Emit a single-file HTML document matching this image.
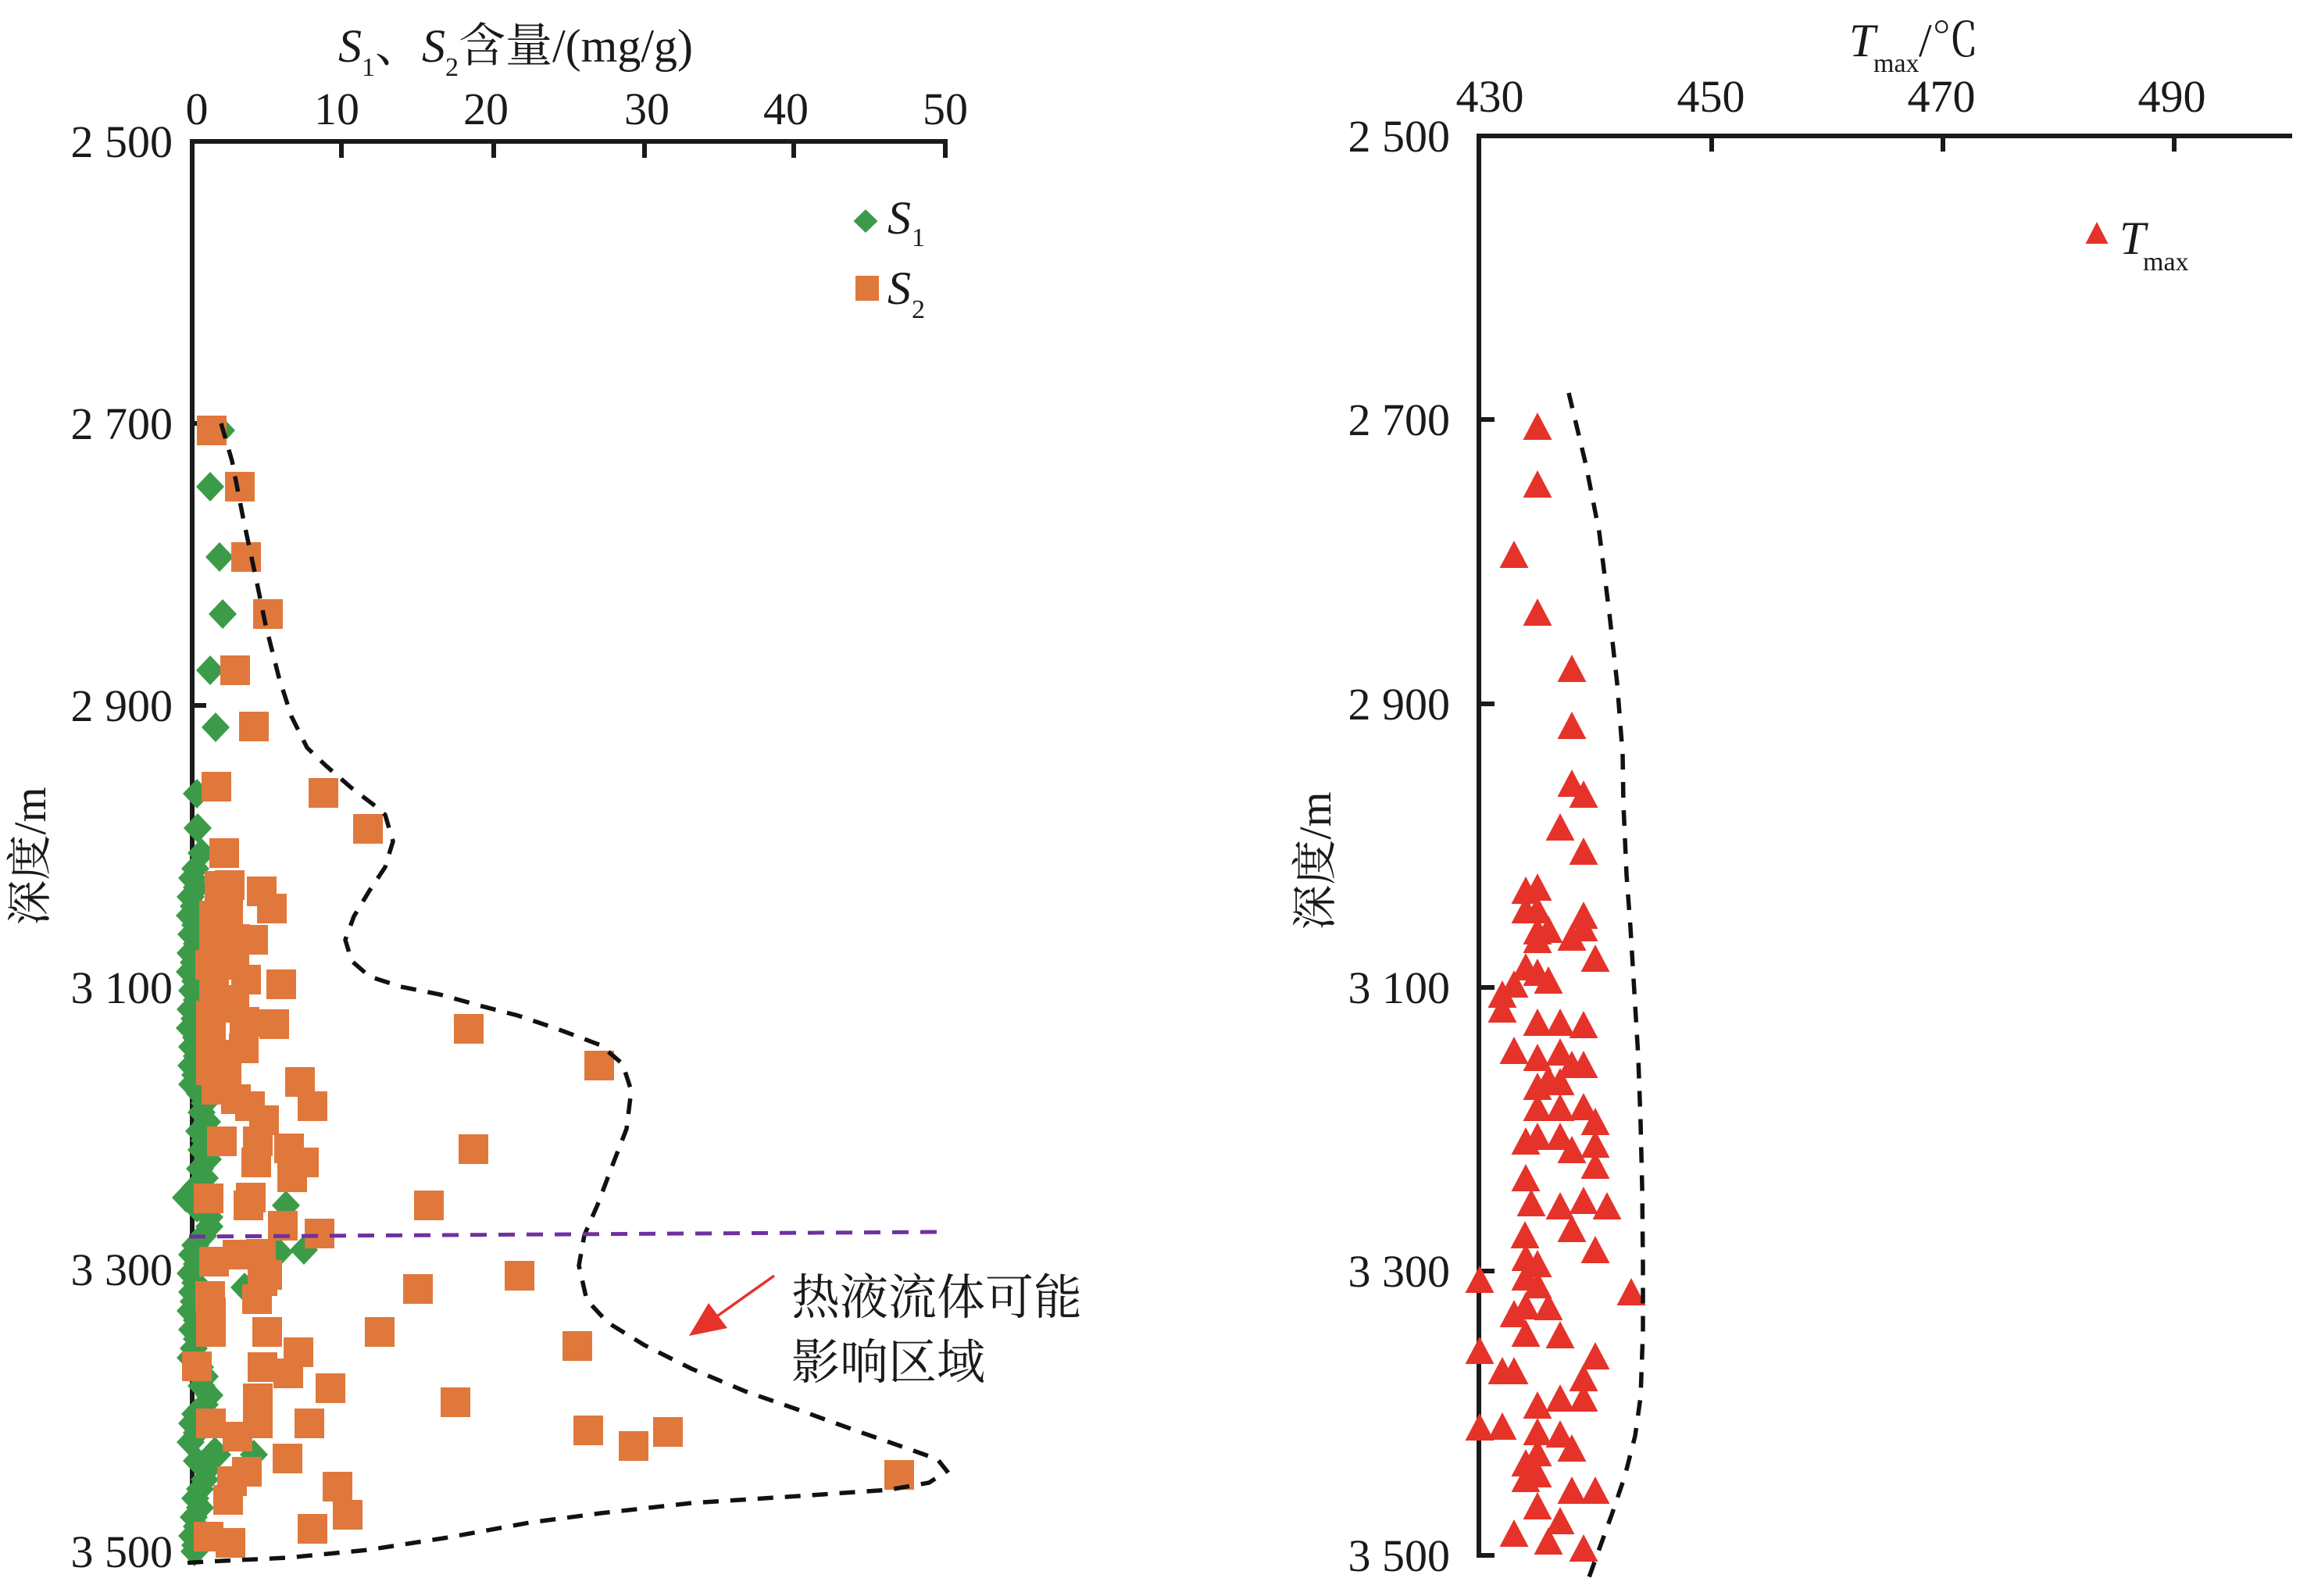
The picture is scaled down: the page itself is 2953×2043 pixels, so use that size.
<!DOCTYPE html>
<html><head><meta charset="utf-8"><style>html,body{margin:0;padding:0;background:#fff}svg{display:block}</style></head>
<body>
<svg xmlns="http://www.w3.org/2000/svg" width="2953" height="2043" viewBox="0 0 2953 2043">
<rect width="2953" height="2043" fill="#fff"/>
<g font-family="'Liberation Serif','Noto Serif CJK SC',serif" fill="#1a1a1a">
<!-- Left title -->
<text x="433" y="79" font-size="60"><tspan font-style="italic">S</tspan><tspan font-size="34" dy="18">1</tspan><tspan dy="-18">、</tspan><tspan font-style="italic">S</tspan><tspan font-size="34" dy="18">2</tspan><tspan dy="-18">含量/(mg/g)</tspan></text>
<!-- Left top tick labels -->
<g font-size="58" text-anchor="middle">
<text x="252" y="159">0</text><text x="431" y="159">10</text><text x="622" y="159">20</text><text x="828" y="159">30</text><text x="1006" y="159">40</text><text x="1210" y="159">50</text>
</g>
<g font-size="58" text-anchor="end">
<text x="221" y="201">2 500</text><text x="221" y="562">2 700</text><text x="221" y="923">2 900</text><text x="221" y="1284">3 100</text><text x="221" y="1645">3 300</text><text x="221" y="2006">3 500</text>
</g>
<text transform="translate(58,1096) rotate(-90)" font-size="58" text-anchor="middle">深度/m</text>
<!-- Right title -->
<text x="2367" y="72" font-size="60" font-style="italic">T</text>
<text x="2398" y="92" font-size="34">max</text>
<text x="2456" y="72" font-size="60">/℃</text>
<g font-size="58" text-anchor="middle">
<text x="1907" y="143">430</text><text x="2190" y="143">450</text><text x="2485" y="143">470</text><text x="2780" y="143">490</text>
</g>
<g font-size="58" text-anchor="end">
<text x="1856" y="194">2 500</text><text x="1856" y="557">2 700</text><text x="1856" y="921">2 900</text><text x="1856" y="1284">3 100</text><text x="1856" y="1647">3 300</text><text x="1856" y="2011">3 500</text>
</g>
<text transform="translate(1703,1102) rotate(-90)" font-size="58" text-anchor="middle">深度/m</text>
<!-- Legends -->
<text x="1136" y="299" font-size="60" font-style="italic">S</text><text x="1167" y="315" font-size="34">1</text>
<text x="1136" y="389" font-size="60" font-style="italic">S</text><text x="1167" y="407" font-size="34">2</text>
<text x="2713" y="325" font-size="60" font-style="italic">T</text><text x="2743" y="346" font-size="34">max</text>
<!-- Annotation -->
<text x="1013" y="1682" font-size="62">热液流体可能</text>
<text x="1013" y="1765" font-size="62">影响区域</text>
</g>
<!-- Legend markers -->
<path d="M1108 268l15.5 15 -15.5 15 -15.5 -15z" fill="#3C9B48"/>
<rect x="1095" y="353" width="30" height="32" fill="#E0783C"/>
<path d="M2684 284l14.5 28h-29z" fill="#E5332A"/>

<!-- Axes -->
<g stroke="#1a1a1a" stroke-width="6" fill="none" stroke-linecap="square">
<path d="M246 181H1210M246 181V1986"/>
<path d="M437 181v18M632 181v18M825 181v18M1016 181v18M1210 181v18"/>
<path d="M246 542h15M246 903h15M246 1264h15M246 1625h15M246 1986h15"/>
<path d="M1893 174H2931M1893 174V1991"/>
<path d="M2191 174v17M2487 174v17M2783 174v17"/>
<path d="M1893 537h17M1893 901h17M1893 1264h17M1893 1627h17M1893 1991h17"/>
</g>

<!-- S1 diamonds -->
<path fill="#3C9B48" d="M283 532l18 19-18 19-18-19zM269 604l18 19-18 19-18-19zM281 694l18 19-18 19-18-19zM285 767l18 19-18 19-18-19zM269 839l18 19-18 19-18-19zM276 912l18 19-18 19-18-19zM252 997l18 19-18 19-18-19zM253 1041l18 19-18 19-18-19zM258 1073l18 19-18 19-18-19z
M250 1093l18 19-18 19-18-19zM246 1105l18 19-18 19-18-19zM252 1117l18 19-18 19-18-19zM244 1129l18 19-18 19-18-19zM248 1141l18 19-18 19-18-19zM243 1153l18 19-18 19-18-19zM250 1165l18 19-18 19-18-19zM245 1177l18 19-18 19-18-19zM252 1189l18 19-18 19-18-19zM244 1201l18 19-18 19-18-19zM248 1213l18 19-18 19-18-19zM243 1225l18 19-18 19-18-19zM250 1237l18 19-18 19-18-19zM246 1249l18 19-18 19-18-19zM252 1261l18 19-18 19-18-19zM244 1273l18 19-18 19-18-19zM249 1285l18 19-18 19-18-19zM243 1297l18 19-18 19-18-19zM251 1309l18 19-18 19-18-19zM246 1321l18 19-18 19-18-19zM252 1333l18 19-18 19-18-19zM245 1345l18 19-18 19-18-19zM250 1357l18 19-18 19-18-19zM246 1369l18 19-18 19-18-19zM256 1381l18 19-18 19-18-19zM262 1393l18 19-18 19-18-19zM258 1405l18 19-18 19-18-19zM265 1417l18 19-18 19-18-19zM255 1429l18 19-18 19-18-19zM262 1441l18 19-18 19-18-19zM258 1453l18 19-18 19-18-19zM266 1465l18 19-18 19-18-19zM256 1477l18 19-18 19-18-19zM262 1489l18 19-18 19-18-19zM250 1501l18 19-18 19-18-19zM238 1514l18 19-18 19-18-19zM252 1527l18 19-18 19-18-19zM268 1539l18 19-18 19-18-19zM268 1551l18 19-18 19-18-19zM260 1563l18 19-18 19-18-19zM250 1575l18 19-18 19-18-19zM246 1587l18 19-18 19-18-19zM252 1599l18 19-18 19-18-19zM244 1611l18 19-18 19-18-19zM250 1623l18 19-18 19-18-19zM246 1635l18 19-18 19-18-19zM248 1647l18 19-18 19-18-19zM244 1659l18 19-18 19-18-19zM252 1671l18 19-18 19-18-19zM246 1683l18 19-18 19-18-19zM252 1695l18 19-18 19-18-19zM248 1707l18 19-18 19-18-19zM244 1719l18 19-18 19-18-19zM256 1731l18 19-18 19-18-19zM262 1743l18 19-18 19-18-19zM258 1755l18 19-18 19-18-19zM268 1767l18 19-18 19-18-19zM262 1779l18 19-18 19-18-19zM250 1791l18 19-18 19-18-19zM246 1803l18 19-18 19-18-19zM252 1815l18 19-18 19-18-19zM244 1827l18 19-18 19-18-19zM275 1839l18 19-18 19-18-19zM252 1851l18 19-18 19-18-19zM264 1863l18 19-18 19-18-19zM262 1875l18 19-18 19-18-19zM256 1887l18 19-18 19-18-19zM250 1899l18 19-18 19-18-19zM256 1911l18 19-18 19-18-19zM248 1923l18 19-18 19-18-19zM252 1935l18 19-18 19-18-19zM246 1947l18 19-18 19-18-19zM250 1959l18 19-18 19-18-19zM249 1967l18 19-18 19-18-19z
M366 1524l18 19-18 19-18-19zM389 1581l18 19-18 19-18-19zM357 1584l18 19-18 19-18-19zM313 1629l18 19-18 19-18-19zM325 1843l18 19-18 19-18-19zM278 1843l18 19-18 19-18-19z"/>

<!-- S2 squares -->
<path fill="#E0783C" d="M252 532h38v38h-38zM288 604h38v38h-38zM296 694h38v38h-38zM324 767h38v38h-38zM282 839h38v38h-38zM306 911h38v38h-38zM258 988h38v38h-38zM395 996h38v38h-38zM452 1042h38v38h-38zM268 1073h38v38h-38z
M262 1115h38v38h-38zM275 1114h38v38h-38zM316 1122h38v38h-38zM329 1144h38v38h-38zM255 1153h38v38h-38zM273 1151h38v38h-38zM305 1184h38v38h-38zM255 1186h38v38h-38zM282 1183h38v38h-38zM250 1216h38v38h-38zM281 1216h38v38h-38zM296 1235h38v38h-38zM341 1241h38v38h-38zM255 1243h38v38h-38zM271 1261h38v38h-38zM332 1292h38v38h-38zM294 1289h38v38h-38zM251 1281h38v38h-38zM281 1271h38v38h-38zM293 1323h38v38h-38zM251 1316h38v38h-38zM271 1331h38v38h-38zM251 1351h38v38h-38zM271 1356h38v38h-38zM365 1366h38v38h-38zM581 1298h38v38h-38zM748 1345h38v38h-38zM587 1452h38v38h-38z
M258 1376h38v38h-38zM283 1388h38v38h-38zM301 1397h38v38h-38zM381 1397h38v38h-38zM319 1415h38v38h-38zM311 1442h38v38h-38zM265 1442h38v38h-38zM309 1469h38v38h-38zM351 1451h38v38h-38zM370 1469h38v38h-38zM355 1488h38v38h-38zM248 1515h38v38h-38zM302 1514h38v38h-38zM299 1524h38v38h-38zM343 1550h38v38h-38zM390 1560h38v38h-38zM530 1524h38v38h-38z
M255 1596h38v38h-38zM285 1587h38v38h-38zM315 1586h38v38h-38zM323 1613h38v38h-38zM317 1621h38v38h-38zM250 1640h38v38h-38zM251 1661h38v38h-38zM310 1644h38v38h-38zM646 1614h38v38h-38zM516 1631h38v38h-38zM467 1686h38v38h-38zM323 1686h38v38h-38zM251 1686h38v38h-38zM720 1704h38v38h-38z
M564 1776h38v38h-38zM734 1812h38v38h-38zM792 1832h38v38h-38zM836 1814h38v38h-38zM1132 1869h38v38h-38zM404 1758h38v38h-38zM363 1712h38v38h-38zM350 1739h38v38h-38zM317 1731h38v38h-38zM233 1730h38v38h-38zM311 1771h38v38h-38zM377 1803h38v38h-38zM251 1803h38v38h-38zM285 1820h38v38h-38zM311 1803h38v38h-38zM349 1848h38v38h-38zM413 1884h38v38h-38zM426 1920h38v38h-38zM381 1938h38v38h-38zM297 1865h38v38h-38zM278 1877h38v38h-38zM273 1901h38v38h-38zM248 1948h38v38h-38zM276 1956h38v38h-38z"/>

<!-- Tmax triangles -->
<path fill="#E5332A" d="M1968 528l18.5 35h-37zM1968 602l18.5 35h-37zM1938 692l18.5 35h-37zM1968 766l18.5 35h-37zM2012 838l18.5 35h-37zM2012 911l18.5 35h-37zM2012 985l18.5 35h-37zM2027 999l18.5 35h-37zM1997 1041l18.5 35h-37zM2027 1072l18.5 35h-37z
M1953 1122l18.5 35h-37zM1968 1118l18.5 35h-37zM1953 1147l18.5 35h-37zM1968 1147l18.5 35h-37zM2027 1154l18.5 35h-37zM2027 1170l18.5 35h-37zM1982 1172l18.5 35h-37zM1968 1174l18.5 35h-37zM2012 1182l18.5 35h-37zM1968 1185l18.5 35h-37z
M2042 1209l18.5 35h-37zM1953 1220l18.5 35h-37zM1968 1227l18.5 35h-37zM1982 1237l18.5 35h-37zM1938 1242l18.5 35h-37zM1923 1255l18.5 35h-37zM1923 1274l18.5 35h-37zM1968 1291l18.5 35h-37zM1997 1291l18.5 35h-37zM2027 1294l18.5 35h-37z
M1938 1327l18.5 35h-37zM1968 1336l18.5 35h-37zM1997 1329l18.5 35h-37zM2012 1345l18.5 35h-37zM2027 1345l18.5 35h-37zM1968 1373l18.5 35h-37zM1997 1367l18.5 35h-37zM1982 1364l18.5 35h-37zM2027 1399l18.5 35h-37zM2042 1418l18.5 35h-37zM1968 1400l18.5 35h-37zM1997 1400l18.5 35h-37z
M1953 1443l18.5 35h-37zM1968 1437l18.5 35h-37zM1997 1437l18.5 35h-37zM2042 1447l18.5 35h-37zM2012 1454l18.5 35h-37zM2042 1474l18.5 35h-37zM1953 1490l18.5 35h-37zM1960 1522l18.5 35h-37zM1997 1526l18.5 35h-37zM2027 1519l18.5 35h-37zM2057 1526l18.5 35h-37z
M1952 1563l18.5 35h-37zM2012 1555l18.5 35h-37zM2042 1582l18.5 35h-37zM1953 1592l18.5 35h-37zM1968 1600l18.5 35h-37zM1953 1617l18.5 35h-37zM1894 1620l18.5 35h-37zM1968 1627l18.5 35h-37zM2088 1636l18.5 35h-37z
M1938 1664l18.5 35h-37zM1953 1654l18.5 35h-37zM1982 1655l18.5 35h-37zM1953 1689l18.5 35h-37zM1997 1691l18.5 35h-37zM1894 1711l18.5 35h-37zM1923 1737l18.5 35h-37zM1938 1737l18.5 35h-37zM2042 1718l18.5 35h-37zM2027 1746l18.5 35h-37zM2027 1772l18.5 35h-37zM1997 1772l18.5 35h-37zM1968 1781l18.5 35h-37z
M1894 1809l18.5 35h-37zM1923 1808l18.5 35h-37zM1968 1815l18.5 35h-37zM1997 1818l18.5 35h-37zM2012 1836l18.5 35h-37zM1953 1855l18.5 35h-37zM1968 1842l18.5 35h-37zM1953 1875l18.5 35h-37zM1968 1869l18.5 35h-37zM2012 1890l18.5 35h-37zM2042 1890l18.5 35h-37zM1968 1910l18.5 35h-37zM1997 1929l18.5 35h-37zM1938 1945l18.5 35h-37zM1982 1955l18.5 35h-37zM2027 1964l18.5 35h-37z"/>

<!-- Dashed envelope left -->
<path fill="none" stroke="#111" stroke-width="5.5" stroke-dasharray="20 15" d="M283 542L297 590L312 667L327 737L340 800L357 867L373 917L393 957L417 980L448 1007L478 1030L493 1043L503 1077L493 1110L473 1140L453 1173L442 1203L450 1230L473 1250L513 1263L563 1273L613 1287L663 1300L713 1317L769 1338L797 1362L808 1396L802 1445L783 1494L765 1542L748 1581L741 1620L751 1664L778 1693L825 1722L885 1752L954 1781L1023 1805L1092 1830L1161 1854L1200 1868L1212 1883L1189 1898L1138 1907L1023 1915L885 1924L769 1937L678 1949L574 1968L471 1984L368 1994L264 1999L233 2001"/>
<!-- Purple line -->
<path fill="none" stroke="#7030A0" stroke-width="5" stroke-dasharray="21 15" d="M242 1583L1205 1577"/>
<!-- Dashed envelope right -->
<path fill="none" stroke="#111" stroke-width="5.5" stroke-dasharray="20 16" d="M2008 503L2030 595L2047 681L2060 785L2070 875L2077 965L2078 1029L2082 1120L2087 1187L2092 1270L2097 1353L2100 1437L2102 1520L2103 1620L2103 1704L2100 1788L2093 1838L2080 1889L2063 1939L2047 1983L2030 2030"/>

<!-- Arrow -->
<line x1="991" y1="1633" x2="912" y2="1689" stroke="#E5332A" stroke-width="3.5"/>
<path d="M882 1710L907 1668L931 1700z" fill="#E5332A"/>
</svg>
</body></html>
